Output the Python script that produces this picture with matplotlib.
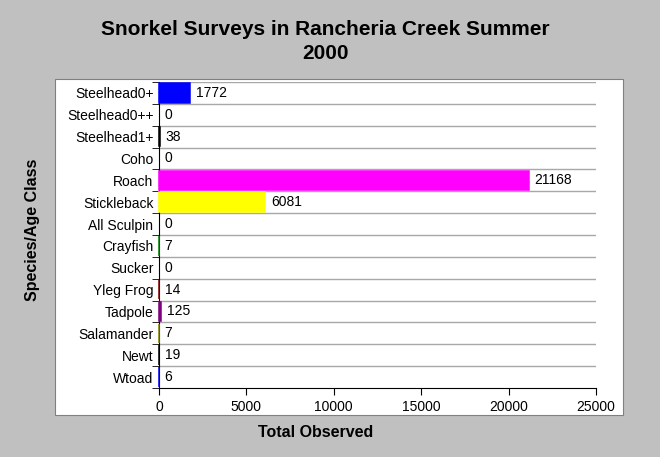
import matplotlib.pyplot as plt
from matplotlib.patches import Rectangle

categories = ['Steelhead0+', 'Steelhead0++', 'Steelhead1+', 'Coho', 'Roach',
              'Stickleback', 'All Sculpin', 'Crayfish', 'Sucker', 'Yleg Frog',
              'Tadpole', 'Salamander', 'Newt', 'Wtoad']
counts = [1772, 0, 38, 0, 21168, 6081, 0, 7, 0, 14, 125, 7, 19, 6]
bar_colors = ['#0000ff', '#ff0000', '#000000', '#00ff00', '#ff00ff',
              '#ffff00', '#00ffff', '#008000', '#000080', '#800000',
              '#800080', '#808000', '#000000', '#0000ff']
xticks = [0, 5000, 10000, 15000, 20000, 25000]

plt.rcParams['font.family'] = ['Liberation Sans', 'DejaVu Sans']

fig = plt.figure(figsize=(6.6, 4.57), dpi=100)
fig.patch.set_facecolor('#c0c0c0')

# white panel behind the plot
fig.patches.append(Rectangle((0.0833, 0.0919), 0.8606, 0.7352,
                             transform=fig.transFigure, facecolor='white',
                             edgecolor='#808080', linewidth=0.8, zorder=0))

ax = fig.add_axes([0.2409, 0.151, 0.6621, 0.6696])
ax.set_zorder(2)
ax.set_facecolor('white')

pos = list(range(len(categories)))
lws = [1.1 if v > 0 else 0 for v in counts]
bars = ax.barh(pos, counts, height=0.9, color=bar_colors, edgecolor=bar_colors,
               linewidth=lws, zorder=3)
for b in bars:
    b.set_clip_on(False)

for p, v in zip(pos, counts):
    ax.annotate(str(v), xy=(v, p), xytext=(4, 0), textcoords='offset points',
                ha='left', va='center', fontsize=10, zorder=4)

ax.set_xlim(0, 25000)
ax.set_ylim(len(categories) - 0.5, -0.5)
ax.set_xticks(xticks)
ax.set_xticklabels([str(t) for t in xticks], fontsize=10)
ax.set_yticks(pos)
ax.set_yticklabels(categories, fontsize=10)
ax.tick_params(axis='y', length=0, pad=4)
ax.tick_params(axis='x', length=5, direction='out', color='black')

bounds = [i - 0.5 for i in range(len(categories) + 1)]
ax.set_yticks(bounds, minor=True)
ax.tick_params(axis='y', which='minor', length=5, direction='out', color='black')
for b in bounds[:-1]:
    ax.axhline(b, color='#a8a8a8', linewidth=1, zorder=1)

for s in ['top', 'right']:
    ax.spines[s].set_visible(False)
ax.spines['left'].set_color('black')
ax.spines['bottom'].set_color('black')

fig.text(0.493, 0.91, 'Snorkel Surveys in Rancheria Creek Summer\n2000',
         ha='center', va='center', fontsize=15, fontweight='bold',
         linespacing=1.35)
fig.text(0.478, 0.054, 'Total Observed', ha='center', va='center',
         fontsize=11.5, fontweight='bold')
fig.text(0.05, 0.497, 'Species/Age Class', ha='center', va='center',
         rotation=90, fontsize=11.5, fontweight='bold')

fig.savefig('out.png', dpi=100, facecolor=fig.get_facecolor())
